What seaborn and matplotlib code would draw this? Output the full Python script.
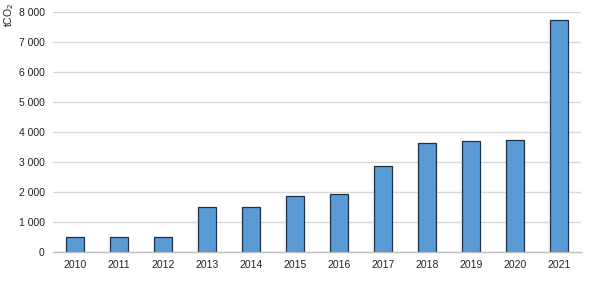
import matplotlib
matplotlib.use("Agg")
import matplotlib.pyplot as plt
import seaborn as sns
import pandas as pd
from matplotlib.ticker import FuncFormatter

years = ["2010", "2011", "2012", "2013", "2014", "2015", "2016", "2017", "2018", "2019", "2020", "2021"]
values = [500, 500, 500, 1500, 1500, 1860, 1930, 2870, 3630, 3700, 3740, 7730]
unit_label = "tCO$_2$"

sns.set_theme(style="white")
plt.rcParams['font.family'] = ['Liberation Sans', 'DejaVu Sans']

df = pd.DataFrame({"year": years, "value": values})

fig = plt.figure(figsize=(5.89, 2.83), dpi=100)
ax = fig.add_axes([0.09, 0.1095, 0.896, 0.848])
sns.barplot(data=df, x="year", y="value", color="#5b9bd5", width=0.41,
            edgecolor="#1f2f45", linewidth=0.9, saturation=1, ax=ax, zorder=3)

ax.set_ylim(0, 8000)
ax.set_yticks(range(0, 8001, 1000))
ax.yaxis.set_major_formatter(FuncFormatter(lambda v, p: f"{int(v):,}".replace(",", " ")))
ax.grid(axis="y", color="#d9d9d9", linewidth=1, zorder=0)
ax.set_axisbelow(True)
for s in ["top", "right", "left"]:
    ax.spines[s].set_visible(False)
ax.spines["bottom"].set_color("#bfbfbf")
ax.spines["bottom"].set_linewidth(1)
ax.spines["bottom"].set_zorder(4)
ax.tick_params(axis="both", length=0, labelsize=7.5, colors="#222222", pad=6)
ax.tick_params(axis="y", pad=6)
ax.set_xlabel("")
ax.set_ylabel("")
ax.set_xlim(-0.5, 11.5)
fig.text(0.004, 0.99, unit_label, rotation=90, ha="left", va="top", fontsize=7.5, color="#222222")

fig.savefig("out.png", dpi=100, facecolor="white")
